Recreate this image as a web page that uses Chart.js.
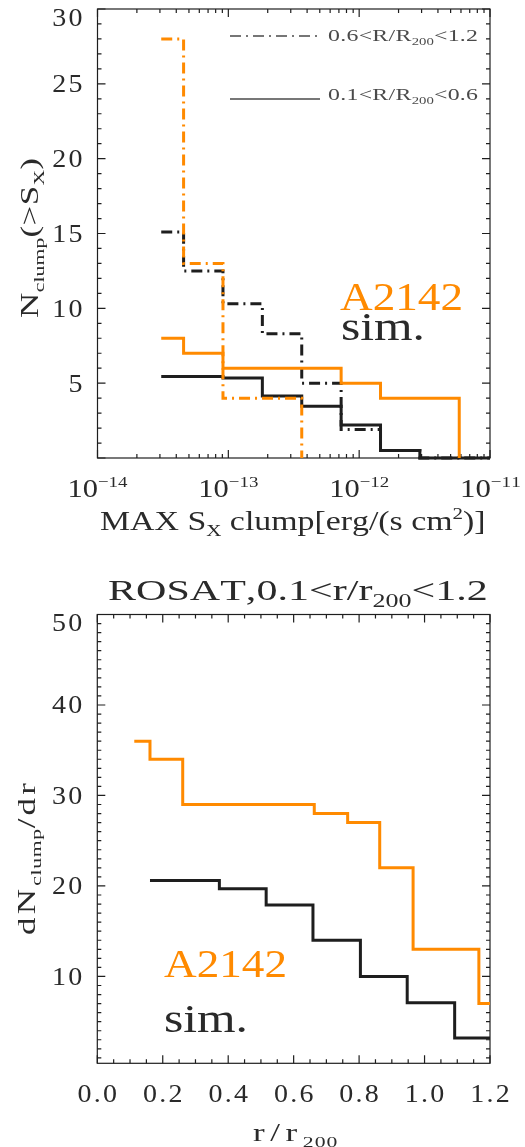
<!DOCTYPE html>
<html>
<head>
<meta charset="utf-8">
<script src="https://cdn.jsdelivr.net/npm/chart.js@4.4.1/dist/chart.umd.min.js"></script>
<style>
  html, body { margin: 0; padding: 0; background: #fff; }
  #wrap { position: relative; width: 525px; height: 1147px; overflow: hidden; }
  canvas { position: absolute; left: 0; }
  #fluxChart { top: 0; }
  #radialChart { top: 550px; }
</style>
</head>
<body>
<div id="wrap">
  <canvas id="fluxChart" width="525" height="550"></canvas>
  <canvas id="radialChart" width="525" height="597"></canvas>
</div>
<script>
const ORANGE = "#ff8a00";
const INK = "#1e1e1e";
const TEXT = "#2a2a2a";
const GREY = "#4a4a4a";
const SERIF = "'Liberation Serif', 'DejaVu Serif', serif";

// --- cumulative clump counts N(>S_X), step edges in erg/(s cm^2) ---
// A2142, 0.1 < R/R200 < 0.6 (solid)
const obsInnerFlux = [3.07e-14, 4.55e-14, 9.1e-14, 7.28e-13, 1.456e-12, 5.82e-12];
const obsInnerN    = [8, 7, 6, 5, 4, 0];
// A2142, 0.6 < R/R200 < 1.2 (dash-dot)
const obsOuterFlux = [3.07e-14, 4.55e-14, 9.1e-14, 3.64e-13];
const obsOuterN    = [28, 13, 4, 0];
// simulation, 0.1 < R/R200 < 0.6 (solid)
const simInnerFlux = [3.07e-14, 9.1e-14, 1.82e-13, 3.64e-13, 7.28e-13, 1.456e-12, 2.91e-12, 1e-11];
const simInnerN    = [5.45, 5.35, 4.15, 3.45, 2.2, 0.5, 0, 0];
// simulation, 0.6 < R/R200 < 1.2 (dash-dot)
const simOuterFlux = [3.07e-14, 4.55e-14, 9.1e-14, 1.82e-13, 3.64e-13, 7.28e-13, 1.456e-12, 2.91e-12, 1e-11];
const simOuterN    = [15.1, 12.5, 10.3, 8.3, 5.0, 1.9, 0.5, 0, 0];

// --- radial distribution dN/dr, step edges in r/r200 ---
const obsRadius = [0.113, 0.161, 0.261, 0.663, 0.765, 0.863, 0.965, 1.166, 1.2];
const obsDNdr   = [36, 34, 29, 28, 27, 22, 13, 7, 7];
const simRadius = [0.161, 0.373, 0.516, 0.659, 0.804, 0.947, 1.092, 1.2];
const simDNdr   = [20.6, 19.7, 17.9, 14.0, 10.0, 7.1, 3.2, 3.2];

// --- axis ticks ---
const fluxTickExp = [-14, -13, -12, -11];
const countTicks  = [5, 10, 15, 20, 25, 30];
const radiusTicks = ["0.0", "0.2", "0.4", "0.6", "0.8", "1.0", "1.2"];
const dndrTicks   = [10, 20, 30, 40, 50];

// each value holds from its edge to the next one
function pts(xs, ys) {
  return xs.map((x, i) => ({ x: x, y: ys[i] }));
}

function setFont(ctx, size) {
  ctx.font = size + "px " + SERIF;
}

const SMALL = 0.62;    // sub/superscript size
const SMALL_GAP = 0.2; // share of the letter gap used inside sub/superscripts

// parts: [text, mode] with mode -1 subscript, 0 normal, 1 superscript
function richWidth(ctx, parts, size) {
  let w = 0;
  parts.forEach(([t, m]) => {
    setFont(ctx, m ? size * SMALL : size);
    w += ctx.measureText(t).width;
  });
  return w;
}

function gapCount(parts) {
  return parts.reduce((n, [t, m]) => n + t.length * (m ? SMALL_GAP : 1), 0) - 1;
}

// draws the text at baseline y, stretched sideways by sx, extra gap ls between glyphs
function drawRich(ctx, parts, x, y, size, align, sx, ls) {
  sx = sx || 1;
  ls = ls || 0;
  const w = (richWidth(ctx, parts, size) + ls * gapCount(parts)) * sx;
  const left = align === "center" ? x - w / 2 : align === "right" ? x - w : x;
  ctx.save();
  ctx.translate(left, y);
  ctx.scale(sx, 1);
  ctx.textAlign = "left";
  ctx.textBaseline = "alphabetic";
  let cx = 0;
  parts.forEach(([t, m]) => {
    setFont(ctx, m ? size * SMALL : size);
    const dy = m < 0 ? size * 0.24 : m > 0 ? -size * 0.42 : 0;
    const gap = m ? ls * SMALL_GAP : ls;
    for (const ch of t) {
      ctx.fillText(ch, cx, dy);
      cx += ctx.measureText(ch).width + gap;
    }
  });
  ctx.restore();
}

// spread the text over the given width: mostly stretch, the rest as spacing
function drawFit(ctx, parts, left, width, y, size) {
  const w0 = richWidth(ctx, parts, size);
  const sx = Math.min(1.4, width / w0);
  const n = gapCount(parts);
  const ls = n > 0 ? (width / sx - w0) / n : 0;
  drawRich(ctx, parts, left, y, size, "left", sx, ls);
}

function linearTicks(min, max, step) {
  const out = [];
  for (let v = Math.ceil(min / step - 1e-9) * step; v <= max + 1e-9; v += step) out.push(v);
  return out;
}

function logTicks(e0, e1) {
  const major = [], minor = [];
  for (let e = e0; e <= e1; e++) {
    major.push(Math.pow(10, e));
    if (e < e1) for (let k = 2; k <= 9; k++) minor.push(k * Math.pow(10, e));
  }
  return { major, minor };
}

const TICK_SX = 1.12;
const TICK_LS = 2;

// IDL-style box: frame plus inward ticks on all four sides
const idlFrame = {
  id: "idlFrame",
  beforeDatasetsDraw(chart, args, opts) {
    const { ctx, chartArea: a, scales } = chart;
    const xs = scales.x, ys = scales.y;
    ctx.save();
    ctx.strokeStyle = INK;
    ctx.lineWidth = 1.2;
    ctx.strokeRect(a.left, a.top, a.right - a.left, a.bottom - a.top);
    ctx.beginPath();
    const vt = (v, len) => {
      const p = xs.getPixelForValue(v);
      ctx.moveTo(p, a.bottom); ctx.lineTo(p, a.bottom - len);
      ctx.moveTo(p, a.top); ctx.lineTo(p, a.top + len);
    };
    const ht = (v, len) => {
      const p = ys.getPixelForValue(v);
      ctx.moveTo(a.left, p); ctx.lineTo(a.left + len, p);
      ctx.moveTo(a.right, p); ctx.lineTo(a.right - len, p);
    };
    opts.xMajor.forEach(v => vt(v, 8));
    opts.xMinor.forEach(v => vt(v, 4));
    opts.yMajor.forEach(v => ht(v, 8));
    opts.yMinor.forEach(v => ht(v, 4));
    ctx.stroke();
    ctx.restore();
  },
  afterDraw(chart, args, opts) {
    const ctx = chart.ctx;
    ctx.save();
    opts.decorate(chart, ctx);
    ctx.restore();
  }
};

function stepLine(data, color, dashed) {
  return {
    data: data,
    borderColor: color,
    borderWidth: 3,
    borderDash: dashed ? [11, 5, 2, 5] : [],
    borderCapStyle: "butt",
    borderJoinStyle: "miter",
    stepped: "before",
    pointRadius: 0,
    fill: false,
    clip: false
  };
}

function baseOptions(padding, xScale, yScale, frame) {
  return {
    responsive: false,
    animation: false,
    events: [],
    layout: { padding: padding },
    plugins: { legend: { display: false }, tooltip: { enabled: false }, idlFrame: frame },
    scales: { x: xScale, y: yScale }
  };
}

function yLabels(ctx, chart, values) {
  const a = chart.chartArea, ys = chart.scales.y;
  values.forEach(v => {
    const p = Math.max(ys.getPixelForValue(v), a.top + 8) + 8.5;
    drawRich(ctx, [[String(v), 0]], a.left - 15, p, 25, "right", TICK_SX, TICK_LS);
  });
}

// ---------- cumulative flux distribution ----------
const fluxLog = logTicks(-14, -11);
new Chart(document.getElementById("fluxChart"), {
  type: "line",
  plugins: [idlFrame],
  data: {
    datasets: [
      stepLine(pts(obsOuterFlux, obsOuterN), ORANGE, true),
      stepLine(pts(obsInnerFlux, obsInnerN), ORANGE, false),
      stepLine(pts(simOuterFlux, simOuterN), INK, true),
      stepLine(pts(simInnerFlux, simInnerN), INK, false)
    ]
  },
  options: baseOptions(
    { left: 97.5, right: 35, top: 9, bottom: 92 },
    { type: "logarithmic", min: 1e-14, max: 1e-11, display: false },
    { type: "linear", min: 0, max: 30, display: false },
    {
      xMajor: fluxLog.major,
      xMinor: fluxLog.minor,
      yMajor: linearTicks(0, 30, 5),
      yMinor: linearTicks(0, 30, 1),
      decorate(chart, ctx) {
        const xs = chart.scales.x;
        ctx.fillStyle = TEXT;
        yLabels(ctx, chart, countTicks);
        fluxTickExp.forEach(e => {
          const p = xs.getPixelForValue(Math.pow(10, e));
          const parts = [["10", 0], ["\u2212" + Math.abs(e), 1]];
          drawFit(ctx, parts, p - 30, 60, 497, 25);
        });
        drawFit(ctx, [["MAX S", 0], ["X", -1], [" clump[erg/(s cm", 0], ["2", 1], [")]", 0]],
          100, 385, 530, 27);

        // rotated y title, baseline on the right
        ctx.save();
        ctx.translate(38, 318);
        ctx.rotate(-Math.PI / 2);
        drawFit(ctx, [["N", 0], ["clump", -1], ["(>S", 0], ["X", -1], [")", 0]], 0, 160, 0, 25);
        ctx.restore();

        // legend
        ctx.save();
        ctx.strokeStyle = GREY;
        ctx.lineWidth = 1.5;
        ctx.setLineDash([11, 5, 2, 5]);
        ctx.beginPath(); ctx.moveTo(230, 36); ctx.lineTo(318, 36); ctx.stroke();
        ctx.setLineDash([]);
        ctx.beginPath(); ctx.moveTo(230, 99); ctx.lineTo(320, 99); ctx.stroke();
        ctx.restore();
        ctx.fillStyle = GREY;
        drawFit(ctx, [["0.6<R/R", 0], ["200", -1], ["<1.2", 0]], 328, 150, 40.5, 17);
        drawFit(ctx, [["0.1<R/R", 0], ["200", -1], ["<0.6", 0]], 328, 150, 100, 17);

        ctx.fillStyle = ORANGE;
        drawFit(ctx, [["A2142", 0]], 340, 123, 310, 40);
        ctx.fillStyle = TEXT;
        drawFit(ctx, [["sim.", 0]], 341, 84, 340, 40);
      }
    }
  )
});

// ---------- radial distribution ----------
new Chart(document.getElementById("radialChart"), {
  type: "line",
  plugins: [idlFrame],
  data: {
    datasets: [
      stepLine(pts(obsRadius, obsDNdr), ORANGE, false),
      stepLine(pts(simRadius, simDNdr), INK, false)
    ]
  },
  options: baseOptions(
    { left: 97.3, right: 35, top: 64.5, bottom: 83.7 },
    { type: "linear", min: 0, max: 1.2, display: false },
    { type: "linear", min: 0.4, max: 50, display: false },
    {
      xMajor: linearTicks(0, 1.2, 0.2),
      xMinor: linearTicks(0, 1.2, 0.05),
      yMajor: linearTicks(10, 50, 10),
      yMinor: linearTicks(1, 50, 1),
      decorate(chart, ctx) {
        const xs = chart.scales.x;
        ctx.fillStyle = TEXT;
        yLabels(ctx, chart, dndrTicks);
        radiusTicks.forEach(t => {
          const p = xs.getPixelForValue(parseFloat(t));
          drawRich(ctx, [[t, 0]], p, 552, 25, "center", TICK_SX, TICK_LS);
        });
        drawFit(ctx, [["ROSAT,0.1<r/r", 0], ["200", -1], ["<1.2", 0]], 108, 372, 49.5, 30);
        drawFit(ctx, [["r/r", 0], ["200", -1]], 253, 80, 591, 25);

        ctx.save();
        ctx.translate(35, 385);
        ctx.rotate(-Math.PI / 2);
        drawFit(ctx, [["dN", 0], ["clump", -1], ["/dr", 0]], 0, 152, 0, 25);
        ctx.restore();

        ctx.fillStyle = ORANGE;
        drawFit(ctx, [["A2142", 0]], 164, 123, 427, 40);
        ctx.fillStyle = TEXT;
        drawFit(ctx, [["sim.", 0]], 164, 84, 482, 40);
      }
    }
  )
});
</script>
</body>
</html>
